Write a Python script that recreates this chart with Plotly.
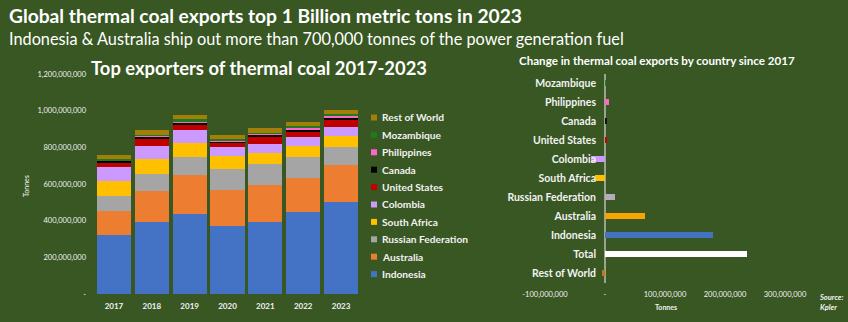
import plotly.graph_objects as go

W, H = 848, 322
BG = "#385723"

# ---- Exports by country and year (tonnes) ----
years = ["2017", "2018", "2019", "2020", "2021", "2022", "2023"]
indonesia = [322e6, 391e6, 436e6, 372e6, 391e6, 449e6, 504e6]
australia = [133e6, 171e6, 213e6, 197e6, 203e6, 185e6, 197e6]
russian_federation = [81e6, 95e6, 99e6, 111e6, 113e6, 114e6, 102e6]
south_africa = [80e6, 77e6, 74e6, 72e6, 60e6, 59e6, 60e6]
colombia = [75e6, 75e6, 75e6, 48e6, 51e6, 51e6, 49e6]
united_states = [25e6, 39e6, 27e6, 21e6, 40e6, 27e6, 36e6]
canada = [11e6, 10e6, 11e6, 11e6, 11e6, 12e6, 15e6]
philippines = [3e6, 4e6, 8e6, 6e6, 5e6, 6e6, 9e6]
mozambique = [8e6, 8e6, 10e6, 9e6, 5e6, 13e6, 9e6]
rest_of_world = [22e6, 24e6, 23e6, 22e6, 24e6, 21e6, 22e6]

stack_names = ["Indonesia", "Australia", "Russian Federation", "South Africa", "Colombia",
               "United States", "Canada", "Philippines", "Mozambique", "Rest of World"]
stack_values = [indonesia, australia, russian_federation, south_africa, colombia,
                united_states, canada, philippines, mozambique, rest_of_world]
stack_colors = ["#4472C4", "#ED7D31", "#A5A5A5", "#FFC000", "#CC99FF",
                "#C00000", "#000000", "#FF66CC", "#1F7A1F", "#A37F0A"]

left_ticks = [0, 200e6, 400e6, 600e6, 800e6, 1000e6, 1200e6]
left_ticktext = ["-", "200,000,000", "400,000,000", "600,000,000", "800,000,000",
                 "1,000,000,000", "1,200,000,000"]

# ---- Change 2017 -> 2023 (tonnes) ----
change_countries = ["Mozambique", "Philippines", "Canada", "United States", "Colombia",
                    "South Africa", "Russian Federation", "Australia", "Indonesia",
                    "Total", "Rest of World"]
change_values = [1e6, 6e6, 2e6, 3e6, -24e6, -16e6, 17e6, 66e6, 180e6, 237e6, -5e6]
change_colors = ["#1F8A1F", "#FF66CC", "#111111", "#C00000", "#CC99FF", "#FFC000",
                 "#B4ACBC", "#F7A400", "#4472C4", "#FFFFFF", "#C47A12"]

right_ticks = [-100e6, 0, 100e6, 200e6, 300e6]
right_ticktext = ["-100,000,000", "-", "100,000,000", "200,000,000", "300,000,000"]


def fx(px):
    return px / W


def fy(py):
    return 1 - py / H


FONT = "Lato, 'Open Sans', sans-serif"
TXT = "#F2F2F2"

fig = go.Figure()

for name, vals, col in zip(stack_names, stack_values, stack_colors):
    fig.add_trace(go.Bar(x=years, y=vals, name=name, marker=dict(color=col, line=dict(width=0)),
                         xaxis="x", yaxis="y", showlegend=False))

fig.add_trace(go.Bar(x=change_values, y=change_countries, orientation="h",
                     marker=dict(color=change_colors, line=dict(width=0)),
                     width=0.36, xaxis="x2", yaxis="y2", showlegend=False))

annotations = [
    dict(text="<b>Global thermal coal exports top 1 Billion metric tons in 2023</b>",
         x=fx(7), y=fy(16), xanchor="left", yanchor="middle",
         font=dict(size=19.2, color="white", family=FONT)),
    dict(text="Indonesia & Australia ship out more than 700,000 tonnes of the power generation fuel",
         x=fx(7), y=fy(38), xanchor="left", yanchor="middle",
         font=dict(size=16.3, color="white", family=FONT)),
    dict(text="<b>Top exporters of thermal coal 2017-2023</b>",
         x=fx(89), y=fy(68), xanchor="left", yanchor="middle",
         font=dict(size=18.4, color="white", family=FONT)),
    dict(text="<b>Change in thermal coal exports by country since 2017</b>",
         x=fx(517), y=fy(61), xanchor="left", yanchor="middle",
         font=dict(size=11.6, color="white", family=FONT)),
    dict(text="Tonnes", x=fx(26), y=fy(186), textangle=-90, xanchor="center", yanchor="middle",
         font=dict(size=7, color=TXT, family=FONT)),
    dict(text="<b>Tonnes</b>", x=fx(666), y=fy(307), xanchor="center", yanchor="middle",
         font=dict(size=7, color=TXT, family=FONT)),
    dict(text="<b><i>Source:<br>Kpler</i></b>", x=fx(817), y=fy(302), xanchor="left",
         yanchor="middle", align="left",
         font=dict(size=7.5, color=TXT, family=FONT)),
]

shapes = []
# legend for the stacked bars, Rest of World at the top
leg_top, leg_step = 117.5, 17.4
for i, (name, col) in enumerate(zip(stack_names[::-1], stack_colors[::-1])):
    yc = leg_top + i * leg_step
    shapes.append(dict(type="rect", xref="paper", yref="paper",
                       x0=fx(371), x1=fx(377), y0=fy(yc + 3), y1=fy(yc - 3),
                       fillcolor=col, line=dict(width=0)))
    annotations.append(dict(text="<b>" + name + "</b>", x=fx(380), y=fy(yc),
                            xanchor="left", yanchor="middle",
                            font=dict(size=10.2, color=TXT, family=FONT)))

for a in annotations:
    a.update(xref="paper", yref="paper", showarrow=False)

fig.update_layout(
    width=W, height=H,
    margin=dict(l=0, r=0, t=0, b=0, autoexpand=False),
    paper_bgcolor=BG, plot_bgcolor=BG,
    barmode="stack", bargap=0.1,
    font=dict(family=FONT, color=TXT),
    xaxis=dict(domain=[fx(95), fx(360)], anchor="y", showgrid=False, zeroline=False,
               showline=False, ticks="", ticklabelstandoff=6, automargin=False,
               tickvals=years, ticktext=["<b>" + y + "</b>" for y in years],
               tickfont=dict(size=8, color=TXT)),
    yaxis=dict(domain=[fy(294), fy(74)], anchor="x", range=[0, 1200e6], showgrid=False,
               zeroline=False, showline=False, tickvals=left_ticks, ticktext=left_ticktext,
               ticks="", ticklabelstandoff=8, automargin=False,
               tickfont=dict(size=7.5, color=TXT)),
    xaxis2=dict(domain=[fx(545), fx(785)], anchor="y2", range=[-100e6, 300e6],
                showgrid=False, zeroline=True, zerolinecolor="#9AA38F", zerolinewidth=1.5,
                showline=False, tickvals=right_ticks,
                ticktext=right_ticktext, ticks="", ticklabelstandoff=6, automargin=False,
                tickfont=dict(size=7.5, color=TXT)),
    yaxis2=dict(domain=[fy(282.5), fy(73.5)], anchor="free", position=fx(605),
                autorange="reversed", showgrid=False, zeroline=False,
                showline=False, ticks="",
                tickvals=change_countries,
                ticktext=["<b>" + c + "</b>" for c in change_countries],
                ticklabelstandoff=9, automargin=False,
                tickfont=dict(size=10.5, color=TXT)),
    annotations=annotations,
    shapes=shapes,
)

fig.write_html("out.html")
